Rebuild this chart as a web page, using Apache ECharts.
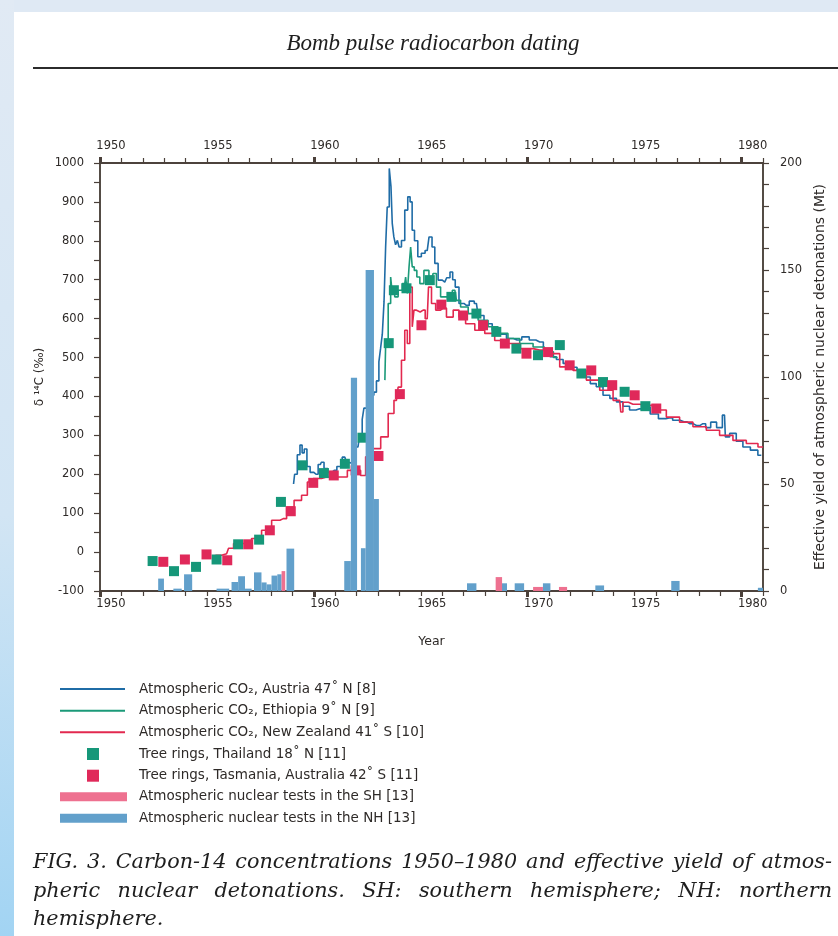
<!DOCTYPE html>
<html>
<head>
<meta charset="utf-8">
<script src="https://cdn.jsdelivr.net/npm/echarts@6/dist/echarts.min.js"></script>
<style>
  html, body { margin: 0; padding: 0; }
  #chart { width: 838px; height: 936px; }
</style>
</head>
<body>
<div id="chart"></div>
<script>
// Austria 47 N, atmospheric CO2 (decimal year, d14C permil)
var austriaYear = [1959.05, 1959.15, 1959.3, 1959.4, 1959.5, 1959.6, 1959.75, 1959.9, 1960.1, 1960.3, 1960.4, 1960.55, 1960.75, 1960.95, 1961.2, 1961.45, 1961.6, 1961.75, 1962.06, 1962.22, 1962.3, 1962.38, 1962.6, 1962.76, 1962.85, 1963.0, 1963.08, 1963.16, 1963.24, 1963.32, 1963.39, 1963.47, 1963.58, 1963.63, 1963.7, 1963.78, 1963.86, 1963.95, 1964.02, 1964.17, 1964.33, 1964.45, 1964.55, 1964.64, 1964.77, 1964.95, 1965.1, 1965.3, 1965.47, 1965.58, 1965.73, 1965.89, 1966.12, 1966.3, 1966.43, 1966.55, 1966.67, 1966.9, 1967.13, 1967.4, 1967.6, 1967.76, 1968.15, 1968.53, 1968.85, 1969.16, 1969.5, 1969.94, 1970.2, 1970.56, 1970.9, 1971.18, 1971.5, 1971.81, 1972.1, 1972.51, 1972.8, 1973.05, 1973.36, 1973.68, 1974.0, 1974.3, 1974.6, 1974.92, 1975.2, 1975.55, 1975.9, 1976.32, 1976.6, 1976.95, 1977.3, 1977.57, 1977.9, 1978.19, 1978.45, 1978.66, 1979.0, 1979.2, 1979.28, 1979.6, 1979.9, 1980.22, 1980.6, 1980.92];
var austriaD14C = [175, 200, 250, 275, 255, 265, 220, 205, 200, 225, 231, 215, 205, 210, 220, 244, 230, 225, 270, 300, 341, 370, 395, 403, 411, 440, 489, 524, 560, 643, 784, 887, 986, 940, 845, 810, 790, 801, 784, 801, 879, 913, 900, 827, 800, 759, 768, 775, 810, 784, 742, 699, 694, 705, 720, 700, 681, 639, 634, 645, 639, 608, 587, 570, 560, 549, 545, 553, 545, 540, 520, 502, 495, 485, 475, 467, 450, 433, 425, 403, 395, 386, 375, 365, 368, 373, 355, 343, 345, 339, 335, 330, 325, 330, 320, 334, 320, 352, 296, 305, 285, 270, 262, 249];

// Ethiopia 9 N, atmospheric CO2
var ethiopiaYear = [1963.32, 1963.4, 1963.55, 1963.63, 1963.7, 1963.86, 1964.02, 1964.25, 1964.33, 1964.41, 1964.49, 1964.56, 1964.64, 1964.75, 1964.88, 1965.03, 1965.26, 1965.5, 1965.65, 1965.81, 1966.04, 1966.36, 1966.59, 1966.74, 1966.98, 1967.45, 1967.91, 1968.38, 1968.84, 1969.31, 1969.94, 1970.56, 1971.0, 1971.4];
var ethiopiaD14C = [442, 545, 639, 707, 665, 656, 673, 690, 707, 665, 733, 784, 733, 724, 707, 690, 724, 699, 716, 681, 656, 656, 673, 647, 630, 613, 596, 579, 562, 549, 536, 527, 515, 500];

// New Zealand 41 S, atmospheric CO2
var nzYear = [1955.3, 1955.45, 1955.92, 1956.1, 1956.39, 1956.85, 1957.32, 1957.79, 1958.26, 1958.57, 1958.88, 1959.27, 1959.58, 1959.81, 1960.12, 1960.59, 1961.06, 1961.37, 1961.76, 1962.07, 1962.3, 1962.54, 1962.93, 1963.32, 1963.63, 1963.86, 1964.02, 1964.17, 1964.33, 1964.41, 1964.56, 1964.64, 1964.72, 1964.83, 1965.11, 1965.3, 1965.42, 1965.58, 1965.81, 1966.04, 1966.36, 1966.67, 1966.9, 1967.29, 1967.76, 1968.22, 1968.69, 1969.31, 1969.94, 1970.56, 1971.18, 1971.81, 1972.43, 1973.05, 1973.68, 1974.3, 1974.4, 1974.5, 1974.92, 1975.55, 1976.17, 1976.79, 1977.41, 1978.04, 1978.66, 1979.28, 1979.91, 1980.53, 1981.0];
var nzD14C = [-10, -8, -4, 10, 22, 22, 35, 56, 82, 86, 116, 133, 146, 180, 189, 193, 193, 193, 210, 210, 197, 245, 266, 296, 356, 390, 424, 493, 570, 536, 681, 579, 622, 617, 622, 600, 681, 639, 622, 627, 604, 622, 604, 587, 570, 562, 544, 536, 523, 519, 510, 476, 467, 442, 416, 390, 360, 385, 380, 377, 365, 347, 334, 322, 313, 300, 287, 279, 270];

// Tree rings, Thailand 18 N
var thaiYear = [1952.46, 1953.46, 1954.49, 1955.45, 1956.46, 1957.44, 1958.46, 1959.47, 1960.47, 1961.45, 1962.27, 1963.5, 1963.74, 1964.33, 1965.42, 1966.43, 1967.6, 1968.53, 1969.47, 1970.48, 1971.5, 1972.51, 1973.52, 1974.53, 1975.5];
var thaiD14C = [-23, -49, -38, -19, 20, 32, 129, 223, 203, 227, 294, 537, 673, 678, 699, 656, 613, 566, 523, 506, 532, 459, 437, 412, 375];

// Tree rings, Tasmania 42 S
var tasYear = [1952.96, 1953.97, 1954.98, 1955.95, 1956.93, 1957.94, 1958.92, 1959.97, 1960.93, 1961.95, 1963.02, 1964.02, 1965.03, 1965.96, 1966.98, 1967.91, 1968.93, 1969.94, 1970.95, 1971.96, 1972.97, 1973.95, 1975.0, 1976.01];
var tasD14C = [-25, -19, -6, -21, 20, 56, 105, 178, 197, 210, 247, 406, 583, 636, 608, 583, 536, 510, 514, 480, 467, 429, 403, 369];

// Nuclear tests, NH: start year, end year, yield (Mt)
var nhStart = [1952.72, 1953.43, 1953.93, 1955.45, 1956.15, 1956.46, 1956.78, 1957.2, 1957.55, 1957.79, 1958.02, 1958.29, 1958.72, 1961.42, 1961.73, 1962.2, 1962.42, 1962.81, 1967.16, 1968.72, 1969.39, 1970.71, 1973.16, 1976.71, 1980.76];
var nhEnd = [1952.99, 1953.82, 1954.31, 1956.04, 1956.46, 1956.78, 1957.09, 1957.55, 1957.79, 1958.02, 1958.29, 1958.49, 1959.08, 1961.73, 1962.02, 1962.42, 1962.81, 1963.04, 1967.6, 1969.03, 1969.83, 1971.06, 1973.57, 1977.1, 1981.0];
var nhYield = [5.8, 1.1, 7.8, 1.1, 4.2, 6.9, 1.1, 8.7, 4.0, 3.1, 7.2, 7.8, 19.8, 14, 99.7, 20, 150, 43, 3.6, 3.6, 3.6, 3.6, 2.6, 4.7, 1.5];

// Nuclear tests, SH
var shStart = [1958.49, 1968.5, 1970.25, 1971.46];
var shEnd = [1958.66, 1968.8, 1970.71, 1971.84];
var shYield = [9.3, 6.5, 1.9, 1.9];

var yearLabels = [1950, 1955, 1960, 1965, 1970, 1975, 1980];
var decadeTicks = [1950, 1960, 1970, 1980];

var legendLabels = [
  "Atmospheric CO₂, Austria 47˚ N [8]",
  "Atmospheric CO₂, Ethiopia 9˚ N [9]",
  "Atmospheric CO₂, New Zealand 41˚ S [10]",
  "Tree rings, Thailand 18˚ N [11]",
  "Tree rings, Tasmania, Australia 42˚ S [11]",
  "Atmospheric nuclear tests in the SH [13]",
  "Atmospheric nuclear tests in the NH [13]"
];

var captionLines = [
  "FIG. 3. Carbon-14 concentrations 1950–1980 and effective yield of atmos-",
  "pheric nuclear detonations. SH: southern hemisphere; NH: northern",
  "hemisphere."
];

var AUSTRIA_C = "#1f6ca6";
var ETHIOPIA_C = "#1b9a79";
var NZ_C = "#e2294f";
var THAI_C = "#169779";
var TAS_C = "#e0295a";
var NH_C = "#62a0cb";
var SH_C = "#ee7190";
var AXIS_C = "#4a403a";
var TEXT_C = "#2e2a28";

function zip(a, b) {
  return a.map(function (v, i) { return [v, b[i]]; });
}
function zip3(a, b, c) {
  return a.map(function (v, i) { return [v, b[i], c[i]]; });
}
var yearTicks = [];
for (var y = 1950; y <= 1981; y++) yearTicks.push(y);
var leftTicks = [];
for (var v = -100; v <= 1000; v += 50) leftTicks.push(v);
var rightTicks = [];
for (var m = 0; m <= 200; m += 10) rightTicks.push(m);

var dom = document.getElementById("chart");
var myChart = echarts.init(dom, null, { renderer: "canvas" });

var tickFont = "DejaVu Sans";
var sansFont = "DejaVu Sans";
var measure = document.createElement("canvas").getContext("2d");

// largest font size whose text fits in maxW
function fitSize(text, family, maxW, start) {
  var s = start;
  measure.font = "italic " + s + 'px "' + family + '"';
  while (measure.measureText(text).width > maxW && s > 8) {
    s -= 0.25;
    measure.font = "italic " + s + 'px "' + family + '"';
  }
  return s;
}

// justified caption line built word by word
function justifyLine(text, x0, x1, yy, font) {
  measure.font = font;
  var words = text.split(" ");
  var widths = words.map(function (w) { return measure.measureText(w).width; });
  var total = widths.reduce(function (a, b) { return a + b; }, 0);
  var gap = (x1 - x0 - total) / (words.length - 1);
  var x = x0;
  return words.map(function (w, i) {
    var el = {
      type: "text", x: x, y: yy, silent: true,
      style: { text: w, font: font, fill: "#1e1e1e", align: "left", verticalAlign: "middle" }
    };
    x += widths[i] + gap;
    return el;
  });
}

var capFamily = "DejaVu Serif";
var capSize = fitSize(captionLines[0], capFamily, 780, 24);
var capFont = "italic " + capSize + 'px "' + capFamily + '"';

var graphics = [
  { type: "rect", silent: true, z: -10, shape: { x: 0, y: 0, width: 14, height: 936 },
    style: { fill: new echarts.graphic.LinearGradient(0, 0, 0, 1, [
      { offset: 0, color: "#e1eaf4" }, { offset: 0.55, color: "#d2e5f4" }, { offset: 1, color: "#a2d4f3" }]) } },
  { type: "rect", silent: true, z: -9, shape: { x: 14, y: 12, width: 824, height: 924 }, style: { fill: "#ffffff" } },
  { type: "text", silent: true, x: 433, y: 44,
    style: { text: "Bomb pulse radiocarbon dating", font: 'italic 23px "Liberation Serif"', fill: "#1e1e1e", align: "center", verticalAlign: "middle" } },
  { type: "line", silent: true, shape: { x1: 33, y1: 68, x2: 838, y2: 68 }, style: { stroke: "#2b2b2b", lineWidth: 2 } }
];
graphics = graphics.concat(justifyLine(captionLines[0], 33, 832, 863, capFont));
graphics = graphics.concat(justifyLine(captionLines[1], 33, 832, 892, capFont));
graphics.push({ type: "text", silent: true, x: 33, y: 920,
  style: { text: captionLines[2], font: capFont, fill: "#1e1e1e", align: "left", verticalAlign: "middle" } });

// legend
var legendY = [689, 710.7, 732.3, 754, 775.7, 796.7, 818.3];
var legendKinds = [["line", AUSTRIA_C], ["line", ETHIOPIA_C], ["line", NZ_C], ["sq", THAI_C], ["sq", TAS_C], ["bar", SH_C], ["bar", NH_C]];
legendKinds.forEach(function (k, i) {
  var yy = legendY[i];
  if (k[0] === "line") {
    graphics.push({ type: "line", silent: true, shape: { x1: 60, y1: yy, x2: 125, y2: yy }, style: { stroke: k[1], lineWidth: 2 } });
  } else if (k[0] === "sq") {
    graphics.push({ type: "rect", silent: true, shape: { x: 87, y: yy - 6, width: 12, height: 12 }, style: { fill: k[1] } });
  } else {
    graphics.push({ type: "rect", silent: true, shape: { x: 60, y: yy - 4.5, width: 67, height: 9 }, style: { fill: k[1] } });
  }
  graphics.push({ type: "text", silent: true, x: 139, y: yy,
    style: { text: legendLabels[i], font: '13.5px "' + sansFont + '"', fill: TEXT_C, align: "left", verticalAlign: "middle" } });
});

function plainFormatter(val) {
  return String(Math.round(val));
}

function xAxisBase(pos) {
  return {
    type: "value", position: pos, min: 1950, max: 1981,
    axisLine: { show: true, onZero: false, lineStyle: { color: AXIS_C, width: 1.5 } },
    axisTick: { show: true, customValues: yearTicks, length: 5, lineStyle: { color: AXIS_C, width: 1.2 } },
    axisLabel: {
      customValues: yearLabels, formatter: plainFormatter, color: TEXT_C, fontFamily: tickFont, fontSize: 11.5,
      margin: pos === "top" ? 11 : 7, align: "center", padding: [0, 0, 0, 22]
    },
    splitLine: { show: false }
  };
}
function xAxisThick(pos) {
  return {
    type: "value", position: pos, min: 1950, max: 1981,
    axisLine: { show: true, onZero: false, lineStyle: { color: AXIS_C, width: 1.5 } },
    axisTick: { show: true, customValues: decadeTicks, length: 6, lineStyle: { color: AXIS_C, width: 3 } },
    axisLabel: { show: false },
    splitLine: { show: false }
  };
}

var bottomAxis = xAxisBase("bottom");
bottomAxis.name = "Year";
bottomAxis.nameLocation = "middle";
bottomAxis.nameGap = 44;
bottomAxis.nameTextStyle = { color: TEXT_C, fontFamily: sansFont, fontSize: 12.5 };

function barRender(color) {
  return function (params, api) {
    var p0 = api.coord([api.value(0), api.value(2)]);
    var p1 = api.coord([api.value(1), 0]);
    return {
      type: "rect",
      shape: { x: p0[0], y: p0[1], width: p1[0] - p0[0], height: p1[1] - p0[1] },
      style: { fill: color }
    };
  };
}

function lineSeries(name, data, color) {
  return {
    name: name, type: "line", xAxisIndex: 0, yAxisIndex: 0, data: data,
    step: "middle", showSymbol: false, symbol: "none", z: 3,
    lineStyle: { color: color, width: 1.6 }
  };
}
function squareSeries(name, data, color) {
  return {
    name: name, type: "scatter", xAxisIndex: 0, yAxisIndex: 0, data: data,
    symbol: "rect", symbolSize: 10, z: 4,
    itemStyle: { color: color, opacity: 1 }
  };
}

var option = {
  animation: false,
  backgroundColor: "#dfe9f4",
  grid: {
    left: 100, right: 75, top: 163, height: 428, containLabel: false, outerBoundsMode: "none",
    show: true, backgroundColor: "transparent", borderColor: AXIS_C, borderWidth: 1.5
  },
  xAxis: [bottomAxis, xAxisBase("top"), xAxisThick("bottom"), xAxisThick("top")],
  yAxis: [
    {
      type: "value", position: "left", min: -100, max: 1000, interval: 100,
      name: "δ ¹⁴C (‰)", nameLocation: "middle", nameGap: 54, nameRotate: 90, nameMoveOverlap: false,
      nameTextStyle: { color: TEXT_C, fontFamily: sansFont, fontSize: 12 },
      axisLine: { show: true, onZero: false, lineStyle: { color: AXIS_C, width: 1.5 } },
      axisTick: { show: true, customValues: leftTicks, length: 6, lineStyle: { color: AXIS_C, width: 1.2 } },
      axisLabel: { formatter: plainFormatter, color: TEXT_C, fontFamily: tickFont, fontSize: 11.5, margin: 16 },
      splitLine: { show: false }
    },
    {
      type: "value", position: "right", min: 0, max: 200, interval: 50,
      name: "Effective yield of atmospheric nuclear detonations (Mt)", nameLocation: "middle", nameGap: 50, nameRotate: 90, nameMoveOverlap: false,
      nameTextStyle: { color: TEXT_C, fontFamily: sansFont, fontSize: 14 },
      axisLine: { show: true, onZero: false, lineStyle: { color: AXIS_C, width: 1.5 } },
      axisTick: { show: true, customValues: rightTicks, length: 6, lineStyle: { color: AXIS_C, width: 1.2 } },
      axisLabel: { formatter: plainFormatter, color: TEXT_C, fontFamily: tickFont, fontSize: 11.5, margin: 17 },
      splitLine: { show: false }
    }
  ],
  series: [
    lineSeries("Atmospheric CO2, Austria", zip(austriaYear, austriaD14C), AUSTRIA_C),
    lineSeries("Atmospheric CO2, Ethiopia", zip(ethiopiaYear, ethiopiaD14C), ETHIOPIA_C),
    lineSeries("Atmospheric CO2, New Zealand", zip(nzYear, nzD14C), NZ_C),
    squareSeries("Tree rings, Thailand", zip(thaiYear, thaiD14C), THAI_C),
    squareSeries("Tree rings, Tasmania", zip(tasYear, tasD14C), TAS_C),
    {
      name: "Nuclear tests NH", type: "custom", xAxisIndex: 0, yAxisIndex: 1, z: 6,
      renderItem: barRender(NH_C), encode: { x: [0, 1], y: 2 },
      data: zip3(nhStart, nhEnd, nhYield)
    },
    {
      name: "Nuclear tests SH", type: "custom", xAxisIndex: 0, yAxisIndex: 1, z: 7,
      renderItem: barRender(SH_C), encode: { x: [0, 1], y: 2 },
      data: zip3(shStart, shEnd, shYield)
    }
  ],
  graphic: graphics
};

if (option && typeof option === "object") {
  myChart.setOption(option);
}
</script>
</body>
</html>
